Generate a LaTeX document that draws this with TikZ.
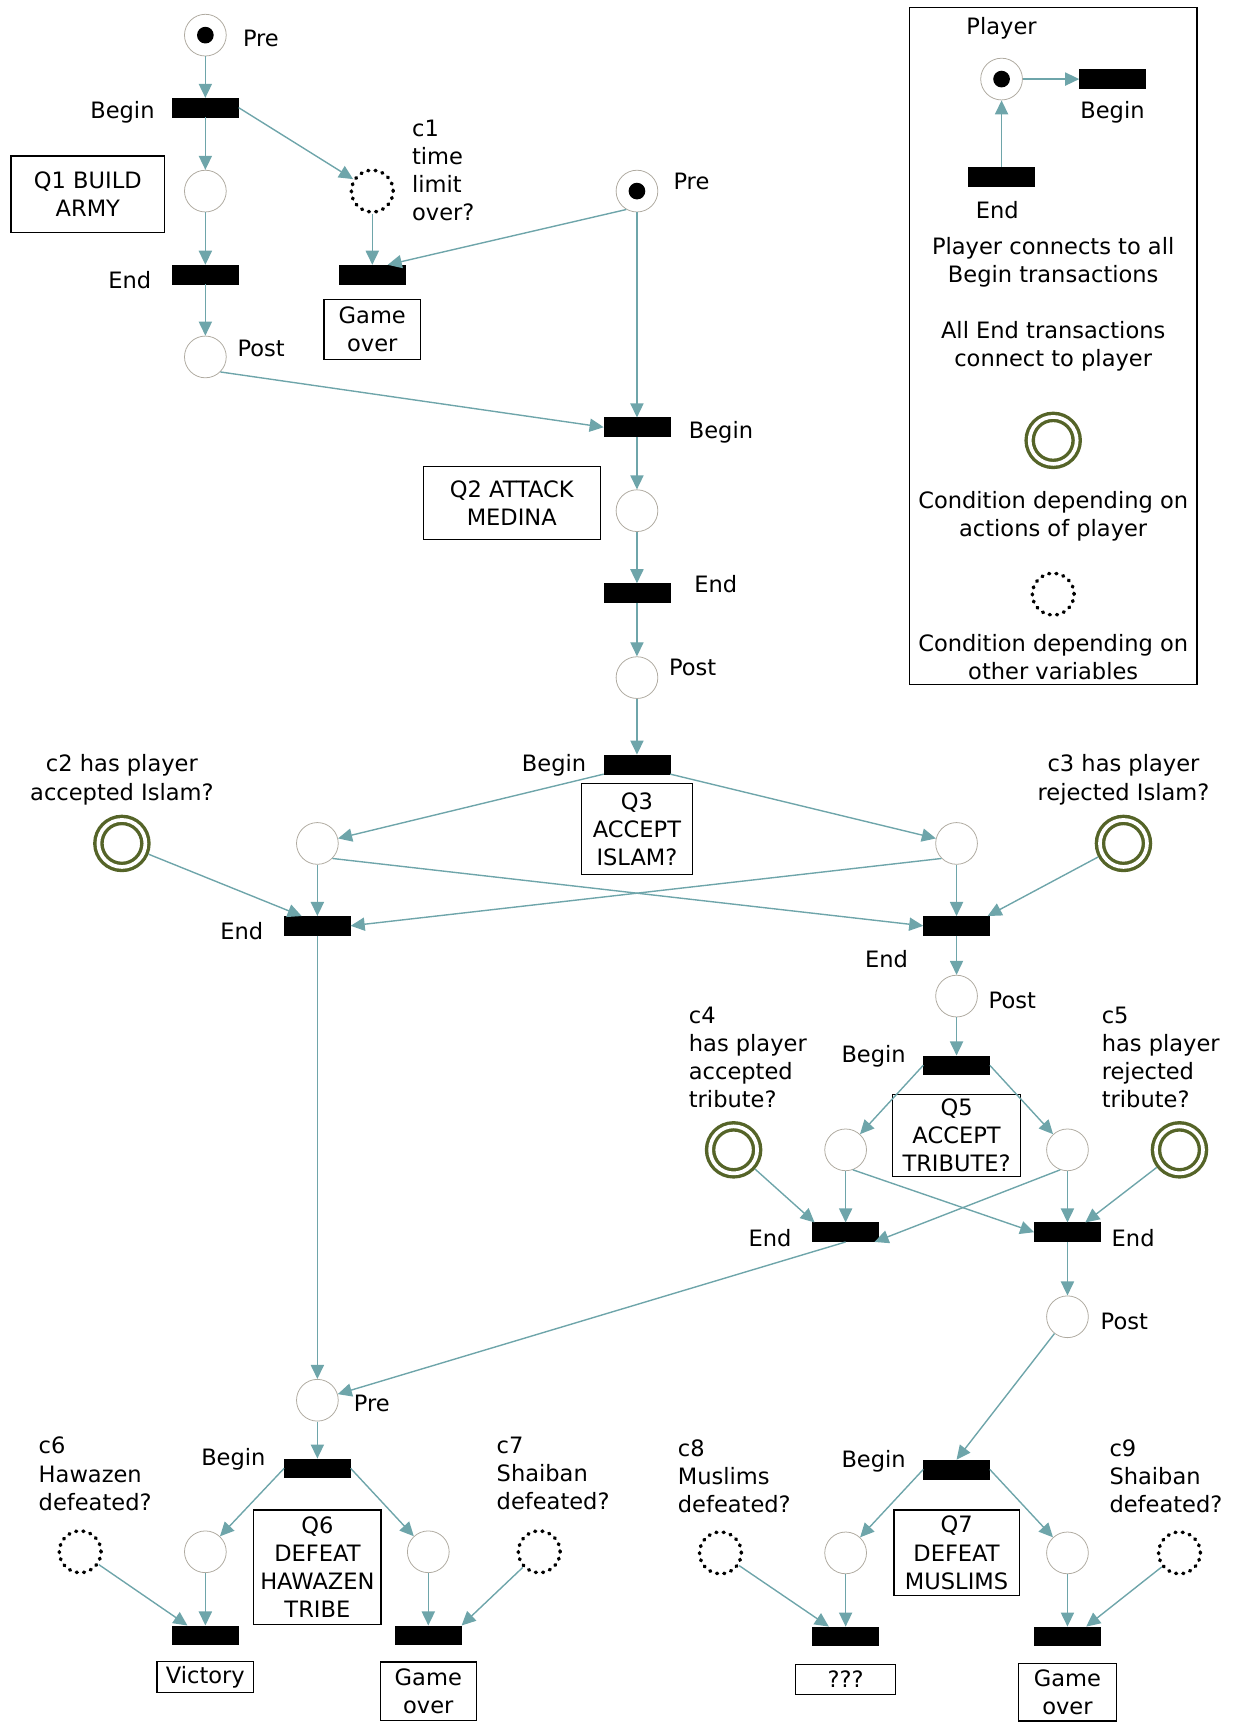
\documentclass[tikz,border=0pt]{standalone}
\usepackage{fontspec}
\setmainfont{DejaVu Sans}
\usetikzlibrary{arrows.meta}
\definecolor{ArcTeal}{RGB}{110,165,170}
\definecolor{CondOlive}{RGB}{85,100,40}
\definecolor{PlaceGray}{RGB}{175,170,160}

\begin{document}
\begin{tikzpicture}[
    x=0.025cm,
    y=-0.025cm,
    font=\fontsize{14.6}{18.2}\selectfont,
    place/.style={
        circle,
        draw=PlaceGray,
        line width=0.5pt,
        fill=white,
        minimum size=0.95cm,
        inner sep=0pt
    },
    token/.style={
        circle,
        fill=black,
        minimum size=0.38cm,
        inner sep=0pt
    },
    bar/.style={
        rectangle,
        fill=black,
        draw=black,
        minimum width=1.5cm,
        minimum height=0.43cm,
        inner sep=0pt
    },
    cond/.style={
        circle,
        draw=CondOlive,
        line width=2.2pt,
        double=white,
        double distance=2.4pt,
        minimum size=1.07cm,
        outer sep=3.4pt,
        inner sep=0pt
    },
    dotcond/.style={
        circle,
        draw=black,
        line width=2.3pt,
        dash pattern=on 0.6pt off 4.1pt,
        line cap=round,
        minimum size=0.95cm,
        inner sep=0pt
    },
    qbox/.style={
        draw,
        line width=0.8pt,
        align=center,
        inner sep=1pt
    },
    lbl/.style={
        inner sep=0pt,
        align=left
    },
    clbl/.style={
        inner sep=0pt,
        align=center
    },
    arc/.style={
        draw=ArcTeal,
        line width=0.9pt,
        -{Triangle[length=0.32cm,width=0.3cm]}
    }
]
\useasboundingbox (0,0) rectangle (1130,1568);

\node[draw, line width=0.9pt, minimum width=6.55cm, minimum height=15.4cm] (legend) at (959,315) {};
\node[clbl] (lgplayer) at (912,26) {Player};
\node[place] (plr) at (912,72) {};
\node[token] (plrtok) at (912,72) {};
\node[bar] (lgbegin) at (1013,72) {};
\node[clbl] (lgbeginlbl) at (1013,102) {Begin};
\node[bar] (lgend) at (912,161) {};
\node[clbl] (lgendlbl) at (908,191) {End};
\node[clbl] (lgtxt1) at (959,239) {Player connects to all\\Begin transactions};
\node[clbl] (lgtxt2) at (959,315) {All End transactions\\connect to player};
\node[cond] (lgcond) at (959,401) {};
\node[clbl] (lgtxt3) at (959,470) {Condition depending on\\actions of player};
\node[dotcond] (lgdot) at (959,541) {};
\node[clbl] (lgtxt4) at (959,598) {Condition depending on\\other variables};

\node[place] (pre1) at (187,32) {};
\node[token] (pre1tok) at (187,32) {};
\node[lbl, anchor=west] (pre1lbl) at (221,35) {Pre};
\node[bar] (B1) at (187,98) {};
\node[lbl, anchor=east] (B1lbl) at (141,102) {Begin};
\node[place] (p1) at (187,174) {};
\node[bar] (E1) at (187,250) {};
\node[lbl, anchor=east] (E1lbl) at (138,255) {End};
\node[place] (post1) at (187,325) {};
\node[lbl, anchor=west] (post1lbl) at (216,317) {Post};
\node[qbox, minimum width=3.5cm, minimum height=1.75cm] (q1) at (80,177) {Q1 BUILD\\ARMY};
\node[dotcond] (c1) at (339,174) {};
\node[lbl, anchor=west] (c1lbl) at (375,155) {c1\\time\\limit\\over?};
\node[bar] (G1) at (339,250) {};
\node[qbox, minimum width=2.2cm, minimum height=1.35cm] (g1box) at (339,300) {Game\\over};

\node[place] (pre2) at (580,174) {};
\node[token] (pre2tok) at (580,174) {};
\node[lbl, anchor=west] (pre2lbl) at (613,165) {Pre};
\node[bar] (B2) at (580,389) {};
\node[lbl, anchor=west] (B2lbl) at (627,394) {Begin};
\node[qbox, minimum width=4.03cm, minimum height=1.65cm] (q2) at (466,458) {Q2 ATTACK\\MEDINA};
\node[place] (p2) at (580,465) {};
\node[bar] (E2) at (580,540) {};
\node[lbl, anchor=west] (E2lbl) at (632,532) {End};
\node[place] (post2) at (580,617) {};
\node[lbl, anchor=west] (post2lbl) at (609,608) {Post};

\node[bar] (B3) at (580,696) {};
\node[lbl, anchor=east] (B3lbl) at (534,697) {Begin};
\node[qbox, minimum width=2.53cm, minimum height=2.08cm] (q3) at (580,755) {Q3\\ACCEPT\\ISLAM?};
\node[place] (p3l) at (289,768) {};
\node[place] (p3r) at (871,768) {};
\node[cond] (c2) at (111,768) {};
\node[clbl] (c2lbl) at (111,710) {c2 has player\\accepted Islam?};
\node[cond] (c3) at (1023,768) {};
\node[clbl] (c3lbl) at (1023,710) {c3 has player\\rejected Islam?};
\node[bar] (E3l) at (289,843) {};
\node[lbl, anchor=east] (E3llbl) at (240,848) {End};
\node[bar] (E3r) at (871,843) {};
\node[lbl, anchor=east] (E3rlbl) at (827,873) {End};

\node[place] (post5) at (871,907) {};
\node[lbl, anchor=west] (post5lbl) at (900,911) {Post};
\node[bar] (B5) at (871,970) {};
\node[lbl, anchor=east] (B5lbl) at (825,962) {Begin};
\node[qbox, minimum width=2.9cm, minimum height=1.88cm] (q5) at (871,1034) {Q5\\ACCEPT\\TRIBUTE?};
\node[place] (p5l) at (770,1047) {};
\node[place] (p5r) at (972,1047) {};
\node[cond] (c4) at (668,1047) {};
\node[lbl, anchor=west] (c4lbl) at (627,963) {c4\\has player\\accepted\\tribute?};
\node[cond] (c5) at (1074,1047) {};
\node[lbl, anchor=west] (c5lbl) at (1003,963) {c5\\has player\\rejected\\tribute?};
\node[bar] (E5l) at (770,1122) {};
\node[lbl, anchor=east] (E5llbl) at (721,1127) {End};
\node[bar] (E5r) at (972,1122) {};
\node[lbl, anchor=west] (E5rlbl) at (1012,1127) {End};
\node[place] (post7) at (972,1199) {};
\node[lbl, anchor=west] (post7lbl) at (1002,1203) {Post};

\node[place] (pre6) at (289,1275) {};
\node[lbl, anchor=west] (pre6lbl) at (322,1278) {Pre};
\node[bar] (B6) at (289,1337) {};
\node[lbl, anchor=east] (B6lbl) at (242,1329) {Begin};
\node[qbox, minimum width=2.9cm, minimum height=2.6cm] (q6) at (289,1427) {Q6\\DEFEAT\\HAWAZEN\\TRIBE};
\node[place] (p6l) at (187,1413) {};
\node[place] (p6r) at (390,1413) {};
\node[dotcond] (c6) at (73,1413) {};
\node[lbl, anchor=west] (c6lbl) at (35,1342) {c6\\Hawazen\\defeated?};
\node[dotcond] (c7) at (491,1413) {};
\node[lbl, anchor=west] (c7lbl) at (452,1342) {c7\\Shaiban\\defeated?};
\node[bar] (L6) at (187,1489) {};
\node[bar] (R6) at (390,1489) {};
\node[qbox, minimum width=2.2cm, minimum height=0.7cm] (victory) at (187,1527) {Victory};
\node[qbox, minimum width=2.18cm, minimum height=1.33cm] (g6box) at (390,1540) {Game\\over};

\node[bar] (B7) at (871,1338) {};
\node[lbl, anchor=east] (B7lbl) at (825,1331) {Begin};
\node[qbox, minimum width=2.85cm, minimum height=1.95cm] (q7) at (871,1414) {Q7\\DEFEAT\\MUSLIMS};
\node[place] (p7l) at (770,1414) {};
\node[place] (p7r) at (972,1414) {};
\node[dotcond] (c8) at (656,1414) {};
\node[lbl, anchor=west] (c8lbl) at (617,1344) {c8\\Muslims\\defeated?};
\node[dotcond] (c9) at (1074,1414) {};
\node[lbl, anchor=west] (c9lbl) at (1010,1344) {c9\\Shaiban\\defeated?};
\node[bar] (L7) at (770,1490) {};
\node[bar] (R7) at (972,1490) {};
\node[qbox, minimum width=2.28cm, minimum height=0.68cm] (unknown) at (770,1529) {???};
\node[qbox, minimum width=2.23cm, minimum height=1.3cm] (g7box) at (972,1541) {Game\\over};

\draw[arc] (plr) -- (lgbegin.west);
\draw[arc] (lgend) -- (plr);

\draw[arc] (pre1) -- (B1);
\draw[arc] (B1) -- (p1);
\draw[arc] (p1) -- (E1);
\draw[arc] (E1) -- (post1);
\draw[arc] (B1.east) -- (c1);
\draw[arc] (c1) -- (G1);
\draw[arc] (pre2.-120) -- ([xshift=0.35cm]G1.north);
\draw[arc] (pre2) -- (B2);
\draw[arc] (post1.south east) -- (B2.west);
\draw[arc] (B2) -- (p2);
\draw[arc] (p2) -- (E2);
\draw[arc] (E2) -- (post2);
\draw[arc] (post2) -- (B3);

\draw[arc] (B3.south west) -- (p3l);
\draw[arc] (B3.south east) -- (p3r);
\draw[arc] (p3l) -- (E3l);
\draw[arc] (p3r) -- (E3r);
\draw[arc] (p3l.south east) -- (E3r.west);
\draw[arc] (p3r.south west) -- (E3l.east);
\draw[arc] (c2) -- ([xshift=0.4cm]E3l.north west);
\draw[arc] (c3) -- ([xshift=-0.05cm]E3r.north east);
\draw[arc] (E3l) -- (pre6);
\draw[arc] (E3r) -- (post5);

\draw[arc] (post5) -- (B5);
\draw[arc] (B5.west) -- (p5l);
\draw[arc] (B5.east) -- (p5r);
\draw[arc] (p5l) -- (E5l);
\draw[arc] (p5r) -- (E5r);
\draw[arc] (p5l.-70) -- (E5r.west);
\draw[arc] (p5r.-110) -- ([xshift=-0.1cm]E5l.south east);
\draw[arc] (c4) -- ([xshift=0.05cm]E5l.north west);
\draw[arc] (c5) -- ([xshift=-0.35cm]E5r.north east);
\draw[arc] (E5l.south) -- (pre6);
\draw[arc] (E5r) -- (post7);
\draw[arc] (post7) -- (B7.north);

\draw[arc] (pre6) -- (B6);
\draw[arc] (B6.west) -- (p6l);
\draw[arc] (B6.east) -- (p6r);
\draw[arc] (p6l) -- (L6);
\draw[arc] (p6r) -- (R6);
\draw[arc] (c6) -- ([xshift=0.35cm]L6.north west);
\draw[arc] (c7) -- (R6.north east);

\draw[arc] (B7.west) -- (p7l);
\draw[arc] (B7.east) -- (p7r);
\draw[arc] (p7l) -- (L7);
\draw[arc] (p7r) -- (R7);
\draw[arc] (c8) -- ([xshift=0.375cm]L7.north west);
\draw[arc] (c9) -- ([xshift=-0.33cm]R7.north east);

\end{tikzpicture}
\end{document}
